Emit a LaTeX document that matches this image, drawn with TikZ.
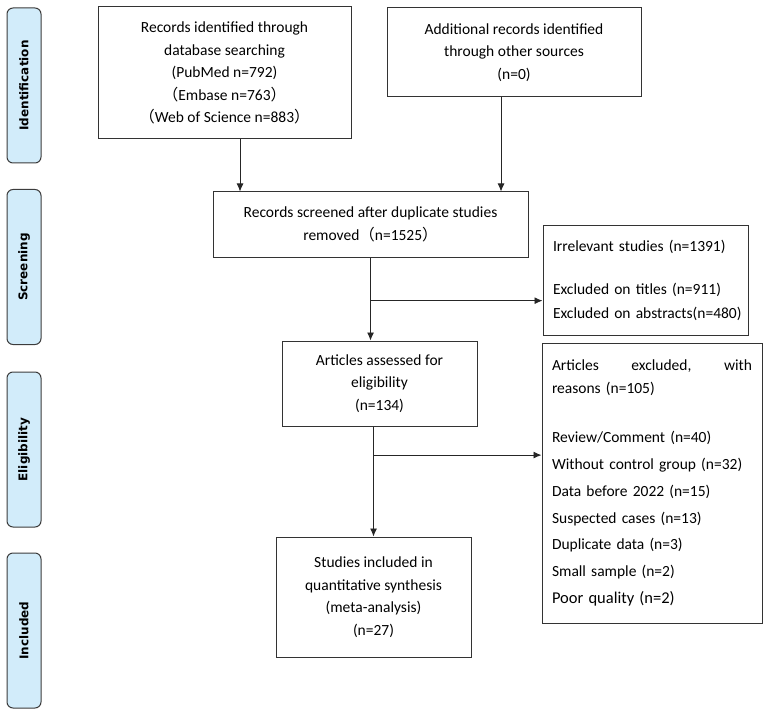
\documentclass[tikz,border=0pt]{standalone}
\usepackage{fontspec}
\setmainfont{Carlito}
\newfontfamily\cjk{Noto Sans CJK SC}
\newfontfamily\stagefont{DejaVu Sans}
\usetikzlibrary{arrows.meta,calc}

\definecolor{stagefill}{HTML}{D2ECFA}
\definecolor{stageline}{HTML}{3C3C3C}

\tikzset{
  box/.style={draw=black!80, line width=1pt, align=center, inner sep=0pt,
    font=\fontsize{15.5}{22.5}\selectfont},
  listbox/.style={box, align=left, inner xsep=10pt},
  stagebox/.style={draw=stageline, fill=stagefill, rounded corners=6pt,
    line width=1pt, rotate=90, minimum width=155, minimum height=34,
    inner sep=0pt, font=\stagefont\bfseries\fontsize{12}{15}\selectfont},
  arr/.style={-{Latex[length=8pt,width=7pt]}, line width=0.9pt, black!85}
}

\begin{document}
\begin{tikzpicture}[x=1pt,y=-1pt]
	\useasboundingbox (0,0) rectangle (767,719);

	% stages on the left
	\node [stagebox] (ident) at (24,85.5) {Identification};
	\node [stagebox] (screening) at (24,267) {Screening};
	\node [stagebox] (elig) at (24,449.5) {Eligibility};
	\node [stagebox] (included) at (24,630.5) {Included};

	% identification
	\node [box, minimum width=253, minimum height=132] (found) at (224.5,73)
	{Records identified through\\database searching\\(PubMed n=792)\\
	{\cjk（}Embase n=763{\cjk）}\\{\cjk（}Web of Science n=883{\cjk）}};
	\node [box, minimum width=254, minimum height=89] (other) at (514,52.5)
	{Additional records identified\\through other sources\\(n=0)};

	% screening
	\node [box, minimum width=315, minimum height=65] (screen) at (370.5,224.5)
	{Records screened after duplicate studies\\removed{\cjk（}n=1525{\cjk）}};
	\node [listbox, text width=185, minimum height=110] (excl1) at (645.5,280)
	{Irrelevant studies (n=1391)\\[20.5pt]Excluded on titles (n=911)\\[1.5pt]
	\mbox{Excluded on abstracts(n=480)}};

	% eligibility
	\node [box, minimum width=195, minimum height=85] (assess) at (379.5,383.5)
	{Articles assessed for\\eligibility\\(n=134)};
	\node [listbox, text width=200, minimum height=280] (excl2) at (652,483)
	{\makebox[200pt]{Articles\hfill excluded,\hfill with}\\reasons (n=105)\\[27pt]
	Review/Comment (n=40)\\[4.2pt]Without control group (n=32)\\[4.2pt]
	Data before 2022 (n=15)\\[4.2pt]Suspected cases (n=13)\\[4.2pt]
	Duplicate data (n=3)\\[4.2pt]Small sample (n=2)\\[4.2pt]
	{\fontsize{16.5}{22.5}\selectfont Poor quality (n=2)}};

	% included
	\node [box, minimum width=195, minimum height=120] (incl) at (373.5,597)
	{Studies included in\\quantitative synthesis\\(meta-analysis)\\(n=27)};

	\coordinate (split1) at ($(screen.south)!0.52!(screen.south |- assess.north)$);
	\coordinate (split2) at ($(incl.north |- assess.south)!0.26!(incl.north)$);

	\draw [arr] ([xshift=15.5]found.south) -- ([xshift=15.5]found.south |- screen.north);
	\draw [arr] ([xshift=-13]other.south) -- ([xshift=-13]other.south |- screen.north);
	\draw [arr] (screen.south) -- (screen.south |- assess.north);
	\draw [arr] (split1) -- (split1 -| excl1.west);
	\draw [arr] (incl.north |- assess.south) -- (incl.north);
	\draw [arr] (split2) -- (split2 -| excl2.west);
\end{tikzpicture}
\end{document}
